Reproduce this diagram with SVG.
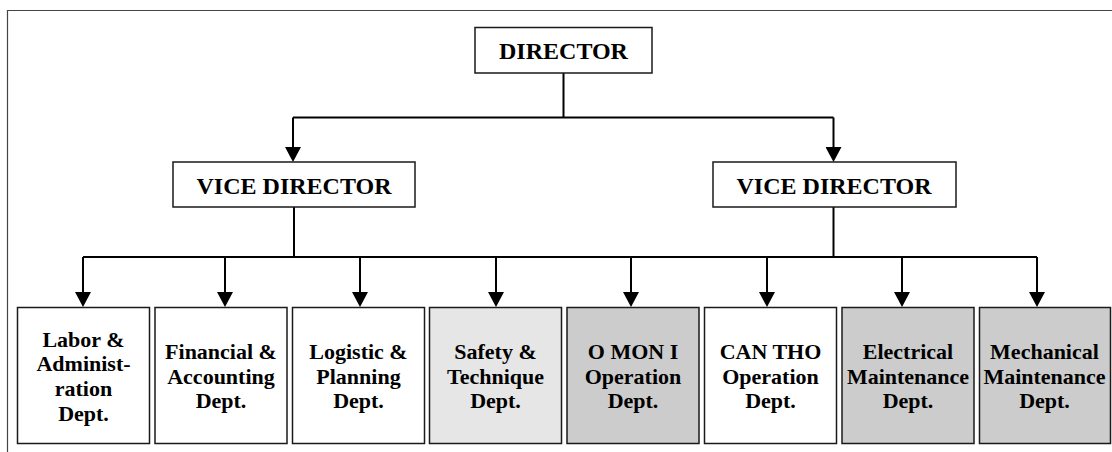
<svg xmlns="http://www.w3.org/2000/svg" width="1112" height="452" viewBox="0 0 1112 452">
<style>
  .box { stroke: #1a1a1a; stroke-width: 1.5; }
  .w { fill: #ffffff; }
  .g1 { fill: #e6e6e6; }
  .g2 { fill: #cccccc; }
  .t { font-family: 'Liberation Serif', 'Times New Roman', Times, 'DejaVu Serif', serif; font-weight: 700; fill: #000; text-anchor: middle; }
  .big { font-size: 24px; }
  .sm { font-size: 22px; }
  .ln { stroke: #000; stroke-width: 2; fill: none; }
  .arr { stroke: #000; stroke-width: 2; fill: none; marker-end: url(#ah); }
</style>
<defs>
  <marker id="ah" markerUnits="userSpaceOnUse" viewBox="0 0 15 16" markerWidth="15" markerHeight="16" refX="8" refY="8" orient="auto">
    <path d="M0,0 L15,8 L0,16 z" fill="#000"/>
  </marker>
</defs>
<rect x="0" y="0" width="1112" height="452" fill="#ffffff"/>
<g id="frame">
  <path d="M7.5,452 V10.5 H1112" stroke="#444" stroke-width="1.2" fill="none"/>
</g>
<g id="connectors">
  <path class="ln" d="M563.5,73 V117.5"/>
  <path class="ln" d="M293,117.5 H833.5"/>
  <path class="arr" d="M293,117.5 V155"/>
  <path class="arr" d="M833.5,117.5 V155"/>
  <path class="ln" d="M294,207 V257"/>
  <path class="ln" d="M833.5,207 V257"/>
  <path class="ln" d="M83,257 H1037"/>
  <path class="arr" d="M83,257 V300"/>
  <path class="arr" d="M225,257 V300"/>
  <path class="arr" d="M360,257 V300"/>
  <path class="arr" d="M496,257 V300"/>
  <path class="arr" d="M631,257 V300"/>
  <path class="arr" d="M767,257 V300"/>
  <path class="arr" d="M902,257 V300"/>
  <path class="arr" d="M1037,257 V300"/>
</g>
<g id="director">
  <rect class="box w" x="475" y="27.5" width="177" height="45.5"/>
  <text class="t big" x="563.5" y="59" font-family="Liberation Serif, Times New Roman, serif">DIRECTOR</text>
</g>
<g id="vice-director-1">
  <rect class="box w" x="173" y="162" width="242" height="45"/>
  <text class="t big" x="294" y="193.5">VICE DIRECTOR</text>
</g>
<g id="vice-director-2">
  <rect class="box w" x="713" y="162" width="243" height="45"/>
  <text class="t big" x="834" y="193.5">VICE DIRECTOR</text>
</g>
<g id="dept-labor">
  <rect class="box w" x="17.5" y="307.5" width="132" height="136"/>
  <text class="t sm" x="83.5" y="346.5">Labor &amp;</text>
  <text class="t sm" x="83.5" y="371.2">Administ-</text>
  <text class="t sm" x="83.5" y="395.9">ration</text>
  <text class="t sm" x="83.5" y="420.6">Dept.</text>
</g>
<g id="dept-financial">
  <rect class="box w" x="155" y="307.5" width="132" height="136"/>
  <text class="t sm" x="221" y="359">Financial &amp;</text>
  <text class="t sm" x="221" y="383.7">Accounting</text>
  <text class="t sm" x="221" y="408.4">Dept.</text>
</g>
<g id="dept-logistic">
  <rect class="box w" x="292.5" y="307.5" width="132" height="136"/>
  <text class="t sm" x="358.5" y="359">Logistic &amp;</text>
  <text class="t sm" x="358.5" y="383.7">Planning</text>
  <text class="t sm" x="358.5" y="408.4">Dept.</text>
</g>
<g id="dept-safety">
  <rect class="box g1" x="429.5" y="307.5" width="132" height="136"/>
  <text class="t sm" x="495.5" y="359">Safety &amp;</text>
  <text class="t sm" x="495.5" y="383.7">Technique</text>
  <text class="t sm" x="495.5" y="408.4">Dept.</text>
</g>
<g id="dept-omon">
  <rect class="box g2" x="567" y="307.5" width="132" height="136"/>
  <text class="t sm" x="633" y="359">O MON I</text>
  <text class="t sm" x="633" y="383.7">Operation</text>
  <text class="t sm" x="633" y="408.4">Dept.</text>
</g>
<g id="dept-cantho">
  <rect class="box w" x="704.5" y="307.5" width="132" height="136"/>
  <text class="t sm" x="770.5" y="359">CAN THO</text>
  <text class="t sm" x="770.5" y="383.7">Operation</text>
  <text class="t sm" x="770.5" y="408.4">Dept.</text>
</g>
<g id="dept-electrical">
  <rect class="box g2" x="842" y="307.5" width="132" height="136"/>
  <text class="t sm" x="908" y="359">Electrical</text>
  <text class="t sm" x="908" y="383.7">Maintenance</text>
  <text class="t sm" x="908" y="408.4">Dept.</text>
</g>
<g id="dept-mechanical">
  <rect class="box g2" x="979.5" y="307.5" width="131" height="136"/>
  <text class="t sm" x="1044.5" y="359">Mechanical</text>
  <text class="t sm" x="1044.5" y="383.7">Maintenance</text>
  <text class="t sm" x="1044.5" y="408.4">Dept.</text>
</g>
</svg>
